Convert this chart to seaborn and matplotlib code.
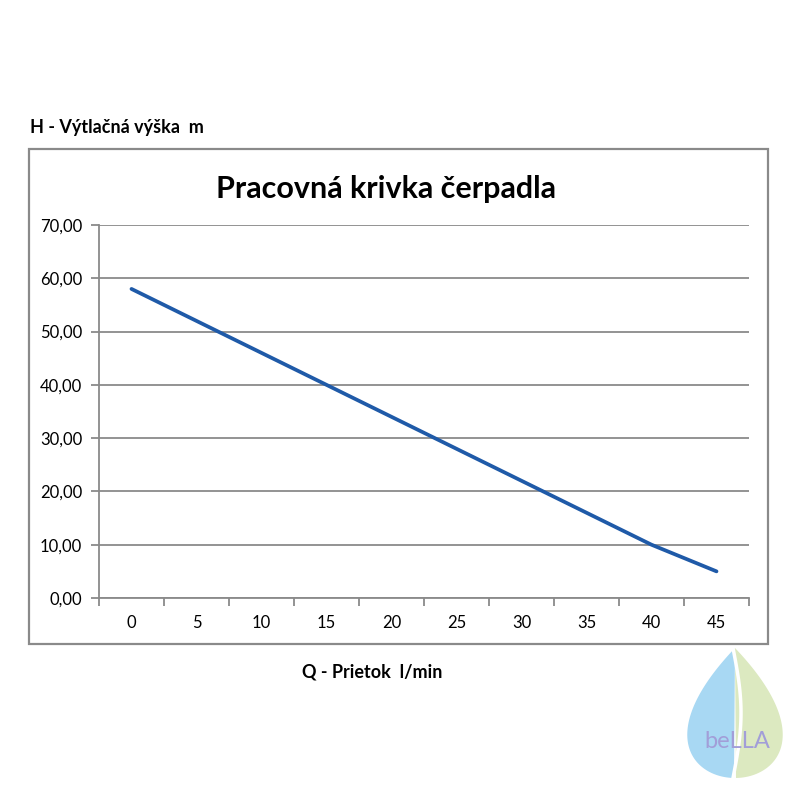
import numpy as np
import pandas as pd
import matplotlib
matplotlib.use('Agg')
import matplotlib.pyplot as plt
from matplotlib.patches import Rectangle, Polygon
from matplotlib.ticker import FuncFormatter, MultipleLocator
import seaborn as sns

# Data
flow = [0, 5, 10, 15, 20, 25, 30, 35, 40, 45]
head = [58, 52, 46, 40, 34, 28, 22, 16, 10, 5]
y_ticks = [0, 10, 20, 30, 40, 50, 60, 70]

title = 'Pracovná krivka čerpadla'
x_label = 'Q - Prietok  l/min'
y_label = 'H - Výtlačná výška  m'

sns.set_theme(style='white')
plt.rcParams['font.family'] = ['Lato', 'DejaVu Sans']
plt.rcParams['text.color'] = 'black'

df = pd.DataFrame({'Q': flow, 'H': head})

fig = plt.figure(figsize=(8, 8), dpi=100)
fig.patch.set_facecolor('white')

# outer chart frame (Excel style)
fig.patches.append(Rectangle((0.03625, 0.195), 0.92375, 0.61875, transform=fig.transFigure,
                             fill=False, edgecolor='#8a8a8a', lw=1.6, zorder=0))

ax = fig.add_axes([0.12375, 0.2525, 0.8125, 0.46625])
sns.lineplot(data=df, x='Q', y='H', ax=ax, color='#1f5aa8', lw=2.7)

ax.set_xlim(-2.5, 47.5)
ax.set_ylim(0, 70)
ax.set_xticks(flow)
ax.xaxis.set_minor_locator(MultipleLocator(5, offset=2.5))
ax.set_yticks(y_ticks)
ax.yaxis.set_major_formatter(FuncFormatter(lambda v, p: f'{v:.2f}'.replace('.', ',')))
ax.tick_params(axis='x', which='major', length=0, pad=12, labelsize=12, labelcolor='black')
ax.tick_params(axis='x', which='minor', length=6, width=1.3, color='#8a8a8a', bottom=True)
ax.tick_params(axis='y', which='major', length=6, width=1.3, color='#8a8a8a', left=True,
               labelsize=12, labelcolor='black', pad=6)
ax.grid(axis='y', color='#8a8a8a', lw=1.3)
ax.grid(axis='x', visible=False)
for side in ['top', 'right']:
    ax.spines[side].set_visible(False)
for side in ['left', 'bottom']:
    ax.spines[side].set_color('#8a8a8a')
    ax.spines[side].set_linewidth(1.3)
ax.set_xlabel('')
ax.set_ylabel('')

fig.text(0.483, 0.764, title, ha='center', va='center', fontsize=22, fontweight='bold')
fig.text(0.037, 0.84, y_label, ha='left', va='center', fontsize=13, fontweight='bold')
fig.text(0.465, 0.16, x_label, ha='center', va='center', fontsize=13, fontweight='bold')

# simple "bella" logo: water drop + leaf
lg = fig.add_axes([675 / 800, 1 - 785 / 800, 120 / 800, 140 / 800])
lg.set_xlim(-60, 60)
lg.set_ylim(-72, 68)
lg.axis('off')
tt = np.linspace(0, 2 * np.pi, 200)
dx = 62 * np.sin(tt) * np.sin(tt / 2) ** 1.0
dy = 65 * np.cos(tt)
left = tt >= np.pi
right = tt <= np.pi
lg.add_patch(Polygon(np.column_stack([dx[left], dy[left]]), closed=True,
                     facecolor='#a8d8f3', edgecolor='none'))
lg.add_patch(Polygon(np.column_stack([dx[right], dy[right]]), closed=True,
                     facecolor='#dce9c0', edgecolor='none'))
sy = np.linspace(-65, 65, 50)
lg.plot(8 * np.sin((sy + 65) / 130 * np.pi) - 2, sy, color='white', lw=2.5)
lg.text(2, -28, 'beLLA', ha='center', va='center', fontsize=17, color='#a29ed8')

fig.savefig('out.png', dpi=100)
